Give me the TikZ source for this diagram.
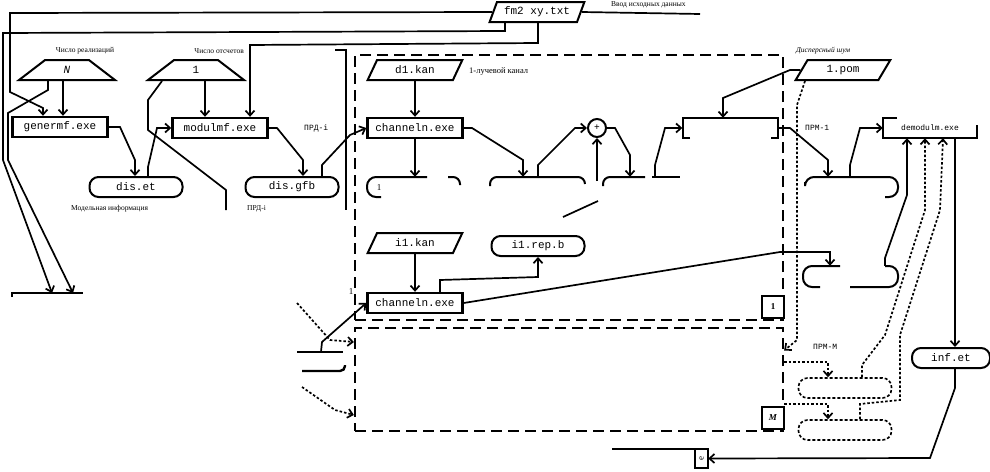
\documentclass[tikz,border=0pt]{standalone}
\usepackage{fontspec}
\setmainfont{Liberation Serif}
\newfontfamily\boxfont{Liberation Mono}
\usetikzlibrary{arrows.meta, calc, positioning, shapes.geometric}

\begin{document}
\begin{tikzpicture}[
    x=1pt, y=-1pt,
    proc/.style={rectangle, draw, line width=2.4pt, minimum width=95pt, minimum height=20pt, inner sep=1pt, font={\boxfont\fontsize{11}{12}\selectfont}},
    datafile/.style={trapezium, trapezium left angle=63, trapezium right angle=117, trapezium stretches=true, draw, line width=2pt, minimum width=95pt, minimum height=20pt, inner sep=1pt, font={\boxfont\fontsize{11}{12}\selectfont}},
    manualin/.style={trapezium, trapezium left angle=61, trapezium right angle=61, trapezium stretches=true, draw, line width=2pt, minimum width=96pt, minimum height=20pt, inner sep=1pt, font={\boxfont\fontsize{11}{12}\selectfont}},
    termbox/.style={rectangle, draw, rounded corners=9pt, line width=2pt, minimum width=93pt, minimum height=20pt, inner sep=1pt, font={\boxfont\fontsize{11}{12}\selectfont}},
    dtermbox/.style={termbox, line width=1.6pt, dash pattern=on 3pt off 2pt},
    gap/.style={rectangle, minimum width=93pt, minimum height=20pt, inner sep=0pt},
    chanframe/.style={rectangle, draw, line width=2.2pt, dash pattern=on 11pt off 6pt},
    numbox/.style={rectangle, draw, line width=2pt, minimum size=22pt, inner sep=0pt, font=\bfseries\small},
    link/.style={line width=1.7pt},
    edge/.style={line width=2pt},
    arrow/.style={link, -{Straight Barb[length=5pt, width=9pt]}},
    darrow/.style={arrow, dash pattern=on 2.5pt off 2pt},
    lbl/.style={font=\fontsize{7.5}{8}\selectfont, inner sep=1pt}
]
    \useasboundingbox (0,0) rectangle (990,471);

    % исходные данные
    \node[datafile] (fm2) at (537,12) {fm2 xy.txt};
    \node[lbl, anchor=west] (intxt) at (610,5) {Ввод исходных данных};
    \coordinate (top1) at (700,14);
    \node[manualin] (nreal) at (67,70) {\textit{N}};
    \node[lbl] (nrealtxt) at (85,51) {Число реализаций};
    \node[manualin] (nsamp) at (196,70) {1};
    \node[lbl, anchor=east] (nsamptxt) at (245,51) {Число отсчетов};

    % модель передатчика
    \node[proc] (genermf) at (60,127) {genermf.exe};
    \node[proc] (modulmf) at (220,128) {modulmf.exe};
    \node[termbox] (diset) at (136,187) {dis.et};
    \node[termbox] (disgfb) at (292,187) {dis.gfb};
    \node[lbl, anchor=north west] (modtxt) at (70,204) {Модельная информация};
    \node[lbl, anchor=north west] (prdtxt) at (246,204) {ПРД-i};
    \node[lbl, anchor=west, font={\boxfont\fontsize{8}{9}\selectfont}] (prdin) at (303,128) {ПРД-i};
    \coordinate (bar1) at (52,293);
    \coordinate (bar2) at (73,293);
    \coordinate (cut1) at (226,210);
    \coordinate (ext1) at (335,50);
    \coordinate (cut2) at (346,210);

    % каналы 1 ... M
    \node[chanframe, minimum width=428pt, minimum height=265pt] (chan1box) at (569,187.5) {};
    \node[chanframe, minimum width=428pt, minimum height=103pt] (chanMbox) at (569,379.5) {};
    \node[numbox, fill=white] (tag1) at (773,307) {1};
    \node[numbox, fill=white] (tagM) at (773,418) {\textit{M}};
    \node[datafile] (d1kan) at (415,70) {d1.kan};
    \node[lbl, anchor=west, font=\fontsize{8.5}{9}\selectfont] (ch1txt) at (468,72) {1-лучевой канал};
    \node[proc] (chan1) at (415,128) {channeln.exe};
    \node[circle, draw, line width=2pt, minimum size=18pt, inner sep=0pt] (sum) at (597,128) {\textbf{+}};
    \node[gap, minimum width=95pt] (mix) at (730,128) {};
    \node[datafile] (pom) at (843,70) {1.pom};
    \node[lbl, anchor=west, font=\itshape\fontsize{7.5}{8}\selectfont] (pomtxt) at (795,51) {Дисперсный шум};
    \node[lbl, anchor=west, font={\boxfont\fontsize{8}{9}\selectfont}] (prm1) at (804,128) {ПРМ-1};
    \node[gap, minimum width=94pt, font={\boxfont\fontsize{8}{9}\selectfont}] (outr) at (930,128) {demodulm.exe};
    \node[gap] (s1) at (415,187) {};
    \node[lbl, font=\fontsize{9}{9}\selectfont] (s1num) at (379,188) {1};
    \node[gap, minimum width=95pt] (s2) at (538,187) {};
    \node[gap, minimum width=95pt] (s3) at (650,187) {};
    \node[gap] (s5) at (851,187) {};
    \node[gap] (s6) at (851,276) {};
    \node[gap, minimum width=48pt] (s7) at (321,362) {};
    \coordinate (nz) at (563,217);
    \coordinate (nz2) at (598,201);
    \coordinate (nz3) at (597,181);
    \node[datafile] (i1kan) at (415,243) {i1.kan};
    \node[termbox] (ipb) at (538,246) {i1.rep.b};
    \node[proc] (chan2) at (415,303) {channeln.exe};
    \node[lbl, font=\fontsize{9}{9}\selectfont] (ch2num) at (351,292) {1};
    \coordinate (dsrc1) at (297,303);
    \coordinate (dsrc2) at (302,387);

    % приемник
    \node[lbl, anchor=west, font={\boxfont\fontsize{8}{9}\selectfont}] (prmM) at (812,347) {ПРМ-M};
    \node[dtermbox] (rxa) at (845,388) {};
    \node[dtermbox] (rxb) at (845,430) {};
    \node[termbox, minimum width=78pt] (infet) at (951,358) {inf.et};
    \node[gap, minimum width=13pt, minimum height=19pt] (boxe) at (701.5,458.5) {\rotatebox{90}{\small e}};

    % видимые части блоков
    \draw[edge, rounded corners=9pt] (427,177) -- (367,177) -- (367,197) -- (381,197);
    \draw[edge, rounded corners=7pt] (448,177) -- (460,177) -- (460,185);
    \draw[edge, rounded corners=7pt] (490,186) -- (490,177) -- (585,177) -- (585,184);
    \draw[edge, rounded corners=7pt] (603,186) -- (603,177) -- (645,177);
    \draw[edge] (652,177) -- (680,177);
    \draw[edge, rounded corners=9pt] (805,182) -- (805,177) -- (898,177) -- (898,197) -- (885,197);
    \draw[edge, rounded corners=9pt] (840,266) -- (803,266) -- (803,287) -- (820,287);
    \draw[edge, rounded corners=9pt] (850,287) -- (898,287) -- (898,266) -- (885,266);
    \draw[edge] (297,352) -- (343,352);
    \draw[edge, line width=2.4pt, rounded corners=5pt] (302,371) -- (345,371) -- (345,365);
    \draw[edge, line width=2.4pt] (690,138) -- (683,138) -- (683,118) -- (778,118) -- (778,138) -- (771,138);
    \draw[edge, line width=2.4pt] (897,118) -- (883,118) -- (883,138) -- (977,138) -- (977,125);
    \draw[edge, line width=2.4pt] (612,449) -- (708,449) -- (708,468) -- (695,468) -- (695,449);
    \draw[edge, line width=2.4pt] (12,297) -- (12,293) -- (83,293);

    % связи
    \draw[link] (fm2.east) -- (top1);
    \draw[arrow] (fm2.west) -- (10,13) -- (10,92) -- (43,108) -- ([xshift=-17pt]genermf.north);
    \draw[arrow] ([xshift=-32pt]fm2.south) -- (505,31) -- (3,33) -- (3,160) -- (bar1);
    \draw[arrow] ([xshift=-4pt]nreal.south) -- ([xshift=3pt]genermf.north);
    \draw[arrow] ([xshift=-19pt]nreal.south) -- (48,90) -- (8,113) -- (8,160) -- (bar2);
    \draw[arrow] ([xshift=1pt]fm2.south) -- (538,43) -- (250,45) -- ([xshift=30pt]modulmf.north);
    \draw[arrow] ([xshift=9pt]nsamp.south) -- ([xshift=-15pt]modulmf.north);
    \draw[link] ([xshift=-34pt]nsamp.south) -- (148,100) -- (148,130) -- (226,190) -- (cut1);
    \draw[arrow] (genermf.east) -- (120,127) -- (135,160) -- ([xshift=-1pt]diset.north);
    \draw[arrow] ([xshift=12pt]diset.north) -- (148,167) -- (157,128) -- (modulmf.west);
    \draw[arrow] (modulmf.east) -- (277,128) -- (303,160) -- ([xshift=11pt]disgfb.north);
    \draw[arrow] ([xshift=30pt]disgfb.north) -- (322,165) -- (350,135) -- (chan1.west);
    \draw[link] (ext1) -- (346,50) -- (cut2);

    \draw[arrow] (d1kan.south) -- (chan1.north);
    \draw[arrow] (chan1.south) -- (s1.north);
    \draw[arrow] (chan1.east) -- (472,128) -- (523,160) -- ([xshift=-15pt]s2.north);
    \draw[arrow] (s2.north) -- (538,165) -- (575,128) -- (sum.west);
    \draw[link] (nz) -- (nz2);
    \draw[arrow] (nz3) -- (sum.south);
    \draw[arrow] (sum.east) -- (615,128) -- (630,155) -- ([xshift=-20pt]s3.north);
    \draw[arrow] ([xshift=5pt]s3.north) -- (655,165) -- (665,128) -- (mix.west);
    \draw[arrow] (pom.west) -- (790,70) -- (723,98) -- ([xshift=-7pt]mix.north);
    \draw[arrow] (mix.east) -- (790,128) -- (828,160) -- ([xshift=-23pt]s5.north);
    \draw[arrow] ([xshift=-1pt]s5.north) -- (850,165) -- (860,128) -- (outr.west);
    \draw[arrow] ([xshift=34pt]s6.north) -- (885,258) -- (907,195) -- ([xshift=-23pt]outr.south);
    \draw[arrow] ([xshift=25pt]outr.south) -- ([xshift=4pt]infet.north);
    \draw[arrow] ([xshift=4pt]infet.south) -- (955,388) -- (930,458) -- (boxe.east);

    \draw[arrow] (i1kan.south) -- (chan2.north);
    \draw[arrow] ([xshift=25pt]chan2.north) -- (440,280) -- (538,277) -- (ipb.south);
    \draw[arrow] (chan2.east) -- (780,252) -- (830,252) -- ([xshift=-21pt]s6.north);
    \draw[arrow] (s7.north) -- (322,342) -- (chan2.west);
    \draw[darrow] (dsrc1) -- (330,340) -- ([yshift=37.5pt]chanMbox.west);
    \draw[darrow] (dsrc2) -- (335,410) -- ([yshift=-35.5pt]chanMbox.west);

    \draw[darrow] ([xshift=-38pt]pom.south) -- (797,105) -- (797,340) -- ([yshift=29pt]chanMbox.east);
    \draw[darrow] ([yshift=17.5pt]chanMbox.east) -- (828,362) -- ([xshift=-17pt]rxa.north);
    \draw[darrow] ([yshift=-24.5pt]chanMbox.east) -- (828,404) -- ([xshift=-17pt]rxb.north);
    \draw[darrow] ([xshift=17pt]rxa.north) -- (862,365) -- (885,335) -- (925,210) -- ([xshift=-5pt]outr.south);
    \draw[darrow] ([xshift=15pt]rxb.north) -- (860,404) -- (900,400) -- (900,335) -- (940,210) -- ([xshift=13pt]outr.south);
\end{tikzpicture}
\end{document}
